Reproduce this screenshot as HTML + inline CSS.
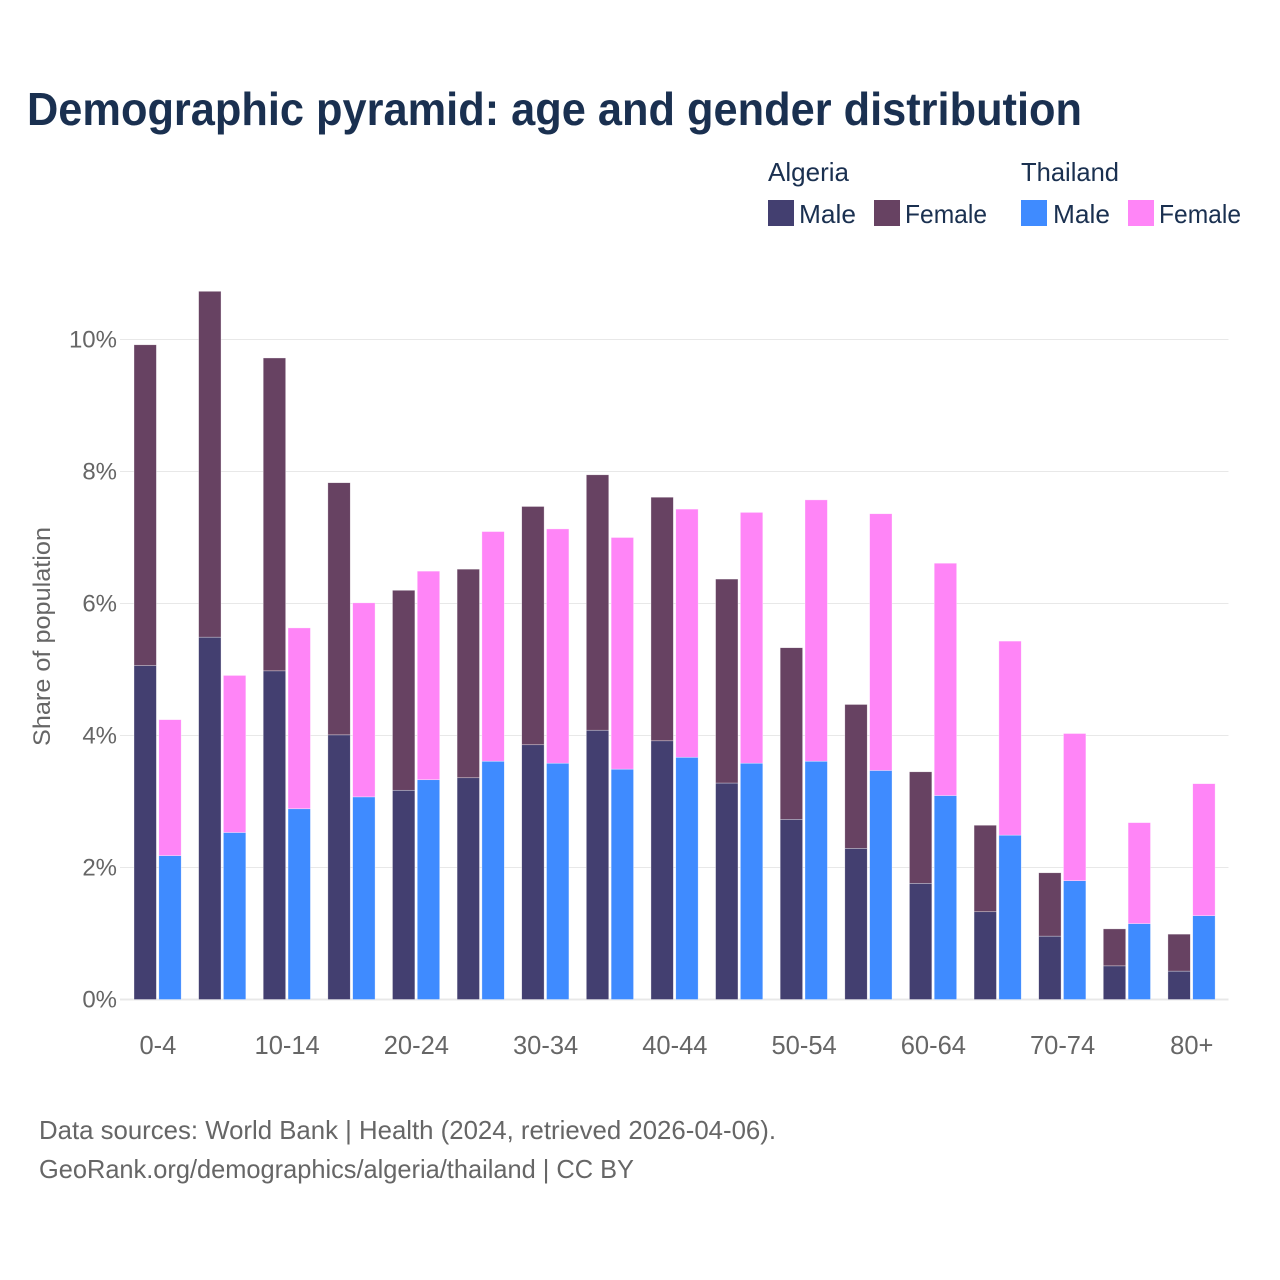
<!DOCTYPE html>
<html lang="en">
<head>
<meta charset="utf-8">
<title>Demographic pyramid: age and gender distribution</title>
<style>
html,body{margin:0;padding:0;background:#fff;}
svg{display:block;font-family:"Liberation Sans",sans-serif;}
</style>
</head>
<body>
<svg id="chart" width="1280" height="1280" viewBox="0 0 1280 1280" xmlns="http://www.w3.org/2000/svg">
  <rect x="0" y="0" width="1280" height="1280" fill="#ffffff"/>
  <text x="27" y="125" font-size="46" font-weight="700" fill="#1a3050" textLength="1055" lengthAdjust="spacingAndGlyphs">Demographic pyramid: age and gender distribution</text>

  <g font-size="26" fill="#1a3050">
    <text x="768" y="181" textLength="81" lengthAdjust="spacingAndGlyphs">Algeria</text>
    <text x="1021" y="181" textLength="98" lengthAdjust="spacingAndGlyphs">Thailand</text>
    <rect x="768" y="200" width="26" height="26" fill="#433f70"/>
    <text x="799" y="223" textLength="57" lengthAdjust="spacingAndGlyphs">Male</text>
    <rect x="874" y="200" width="26" height="26" fill="#674262"/>
    <text x="905" y="223" textLength="82" lengthAdjust="spacingAndGlyphs">Female</text>
    <rect x="1021" y="200" width="26" height="26" fill="#3f8bff"/>
    <text x="1053" y="223" textLength="57" lengthAdjust="spacingAndGlyphs">Male</text>
    <rect x="1128" y="200" width="26" height="26" fill="#ff85f7"/>
    <text x="1159" y="223" textLength="82" lengthAdjust="spacingAndGlyphs">Female</text>
  </g>

  <g id="grid"></g>
  <g id="bars"></g>
  <g id="yticks"></g>
  <g id="xticks"></g>

  <text transform="translate(50,636.5) rotate(-90)" text-anchor="middle" font-size="24" fill="#666666" textLength="219" lengthAdjust="spacingAndGlyphs">Share of population</text>

  <text x="39" y="1139" font-size="26" fill="#666666" textLength="737" lengthAdjust="spacingAndGlyphs">Data sources: World Bank | Health (2024, retrieved 2026-04-06).</text>
  <text x="39" y="1178" font-size="26" fill="#666666" textLength="595" lengthAdjust="spacingAndGlyphs">GeoRank.org/demographics/algeria/thailand | CC BY</text>
</svg>
<script>
const categories = ["0-4","5-9","10-14","15-19","20-24","25-29","30-34","35-39","40-44","45-49","50-54","55-59","60-64","65-69","70-74","75-79","80+"];
const xTickLabels = ["0-4","","10-14","","20-24","","30-34","","40-44","","50-54","","60-64","","70-74","","80+"];
const yTicks = [0,2,4,6,8,10];
const algeriaMale = [5.06,5.49,4.98,4.01,3.17,3.36,3.86,4.08,3.92,3.28,2.73,2.29,1.76,1.33,0.96,0.51,0.43];
const algeriaFemale = [4.86,5.24,4.74,3.82,3.03,3.16,3.61,3.87,3.69,3.09,2.60,2.18,1.69,1.31,0.96,0.56,0.56];
const thailandMale = [2.18,2.53,2.89,3.07,3.33,3.61,3.58,3.49,3.67,3.58,3.61,3.47,3.09,2.49,1.80,1.15,1.27];
const thailandFemale = [2.06,2.38,2.74,2.94,3.16,3.48,3.55,3.51,3.76,3.80,3.96,3.89,3.52,2.94,2.23,1.53,2.00];

const NS = "http://www.w3.org/2000/svg";
const plotLeft = 120, plotRight = 1228.5, plotBaseline = 999.5, pxPerPercent = 66;
const firstCenter = 157.6, step = 64.62, barWidth = 22.4, barOffset = 12.4;
const colorAlgeriaMale = "#433f70", colorAlgeriaFemale = "#674262", colorThailandMale = "#3f8bff", colorThailandFemale = "#ff85f7";

function yScale(v) { return plotBaseline - v * pxPerPercent; }
function xScale(i) { return firstCenter + i * step; }
function make(tag, attrs) {
  const el = document.createElementNS(NS, tag);
  for (const k in attrs) el.setAttribute(k, attrs[k]);
  return el;
}

const grid = document.getElementById("grid");
const yticksG = document.getElementById("yticks");
const xticksG = document.getElementById("xticks");
const barsG = document.getElementById("bars");

yTicks.forEach(function (t) {
  const line = make("line", {x1: plotLeft, x2: plotRight, y1: yScale(t), y2: yScale(t), stroke: "#e8e8e8", "stroke-width": t === 0 ? 2 : 1});
  
  
  grid.appendChild(line);
  const label = make("text", {x: 117, y: yScale(t) + 8, "text-anchor": "end", "font-size": 24, fill: "#666666"});
  
  
  label.textContent = t + "%";
  yticksG.appendChild(label);
});

xTickLabels.forEach(function (t, i) {
  if (!t) return;
  const label = make("text", {x: xScale(i) + 0.3, y: 1054, "text-anchor": "middle", "font-size": 25.5, fill: "#666666"});
  
  
  label.textContent = t;
  xticksG.appendChild(label);
});

function drawSegment(x, bottomValue, value, fill, name, title) {
  const top = yScale(bottomValue + value);
  const rect = make("rect", {x: x, y: top, width: barWidth, height: yScale(bottomValue) - top, fill: fill, stroke: "#ffffff", "stroke-opacity": 0.55, "stroke-width": 0.6});
  
  
  const tip = make("title", {});
  tip.textContent = title;
  rect.appendChild(tip);
  barsG.appendChild(rect);
}

categories.forEach(function (c, i) {
  const xa = xScale(i) - barOffset - barWidth / 2;
  const xt = xScale(i) + barOffset - barWidth / 2;
  drawSegment(xa, 0, algeriaMale[i], colorAlgeriaMale, 'bar-algeria-male', "Algeria male " + c);
  drawSegment(xa, algeriaMale[i], algeriaFemale[i], colorAlgeriaFemale, 'bar-algeria-female', "Algeria female " + c);
  drawSegment(xt, 0, thailandMale[i], colorThailandMale, 'bar-thailand-male', "Thailand male " + c);
  drawSegment(xt, thailandMale[i], thailandFemale[i], colorThailandFemale, 'bar-thailand-female', "Thailand female " + c);
});
</script>
</body>
</html>
